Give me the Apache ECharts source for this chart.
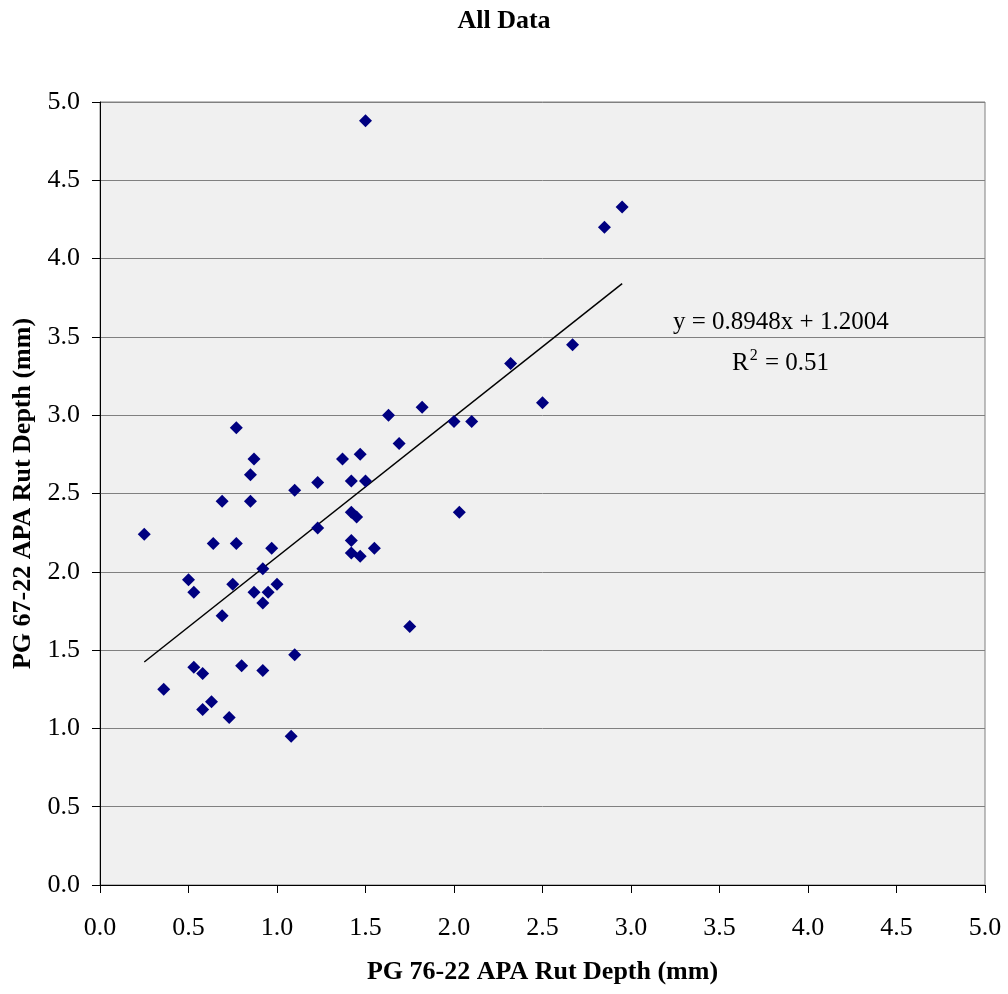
<!DOCTYPE html>
<html>
<head>
<meta charset="utf-8">
<script src="https://cdn.jsdelivr.net/npm/echarts@6/dist/echarts.min.js"></script>
<style>
html,body{margin:0;padding:0;background:#fff;}
#chart{width:1008px;height:994px;}
</style>
</head>
<body>
<div id="chart"></div>
<script>
// PG 76-22 APA rut depth (mm)
var xValues = [0.25,0.36,0.50,0.53,0.53,0.58,0.58,0.63,0.64,0.69,0.69,0.73,0.75,0.77,0.77,0.80,0.85,0.85,0.87,0.87,
  0.92,0.92,0.92,0.95,0.97,1.00,1.08,1.10,1.10,1.23,1.23,1.37,1.42,1.42,1.42,1.42,1.45,1.47,1.47,1.50,
  1.50,1.55,1.63,1.69,1.75,1.82,2.00,2.03,2.10,2.32,2.50,2.67,2.85,2.95];
// PG 67-22 APA rut depth (mm)
var yValues = [2.24,1.25,1.95,1.87,1.39,1.35,1.12,1.17,2.18,2.45,1.72,1.07,1.92,2.92,2.18,1.40,2.62,2.45,2.72,1.87,
  2.02,1.80,1.37,1.87,2.15,1.92,0.95,2.52,1.47,2.57,2.28,2.72,2.58,2.38,2.20,2.12,2.35,2.75,2.10,4.88,
  2.58,2.15,3.00,2.82,1.65,3.05,2.96,2.38,2.96,3.33,3.08,3.45,4.20,4.33];
var trendSlope = 0.8948;
var trendIntercept = 1.2004;
var rSquared = 0.51;
var axisTicks = [0.0,0.5,1.0,1.5,2.0,2.5,3.0,3.5,4.0,4.5,5.0];

var points = xValues.map(function(x,i){return [x, yValues[i]];});
var xmin = Math.min.apply(null, xValues), xmax = Math.max.apply(null, xValues);
var trend = [[xmin, trendSlope*xmin+trendIntercept],[xmax, trendSlope*xmax+trendIntercept]];

var font = 'Liberation Serif';
var chart = echarts.init(document.getElementById('chart'));
chart.setOption({
  backgroundColor:'#fff',
  animation:false,
  textStyle:{fontFamily:font},
  title:{text:'All Data', left:'center', top:3,
    textStyle:{fontFamily:font,fontWeight:'bold',fontSize:26,color:'#000'}},
  grid:{left:100,right:23,top:102,bottom:109,show:true,backgroundColor:'#f0f0f0',borderColor:'#808080',borderWidth:1},
  xAxis:{type:'value',min:axisTicks[0],max:axisTicks[axisTicks.length-1],interval:0.5,
    name:'PG 76-22 APA Rut Depth (mm)',nameLocation:'middle',nameGap:74,
    nameTextStyle:{fontFamily:font,fontWeight:'bold',fontSize:26,color:'#000'},
    axisLine:{show:true,onZero:false,lineStyle:{color:'#000',width:1}},
    axisTick:{show:true,length:8,lineStyle:{color:'#000'}},
    axisLabel:{margin:30,fontSize:26,color:'#000',fontFamily:font,
      formatter:function(v){return v.toFixed(1);}},
    splitLine:{show:false}},
  yAxis:{type:'value',min:axisTicks[0],max:axisTicks[axisTicks.length-1],interval:0.5,
    name:'PG 67-22 APA Rut Depth (mm)',nameLocation:'middle',nameGap:62,
    nameTextStyle:{fontFamily:font,fontWeight:'bold',fontSize:26,color:'#000'},
    axisLine:{show:true,onZero:false,lineStyle:{color:'#000',width:1}},
    axisTick:{show:true,length:8,lineStyle:{color:'#000'}},
    axisLabel:{margin:20,fontSize:26,color:'#000',fontFamily:font,
      formatter:function(v){return v.toFixed(1);}},
    splitLine:{show:true,lineStyle:{color:'#808080',width:1}}},
  series:[
    {type:'scatter',data:points,symbol:'diamond',symbolSize:13,
      itemStyle:{color:'#000080',opacity:1},z:3},
    {type:'line',data:trend,symbol:'none',lineStyle:{color:'#000',width:1.5},z:2,silent:true}
  ],
  graphic:[
    {type:'text',x:673,y:322,style:{text:'y = 0.8948x + 1.2004',font:'25px "Liberation Serif"',fill:'#000',verticalAlign:'middle'}},
    {type:'text',x:732,y:362,style:{
      text:'{n|R}{s|2}{n| = '+rSquared.toFixed(2)+'}',verticalAlign:'middle',
      rich:{n:{fontFamily:font,fontSize:25,fill:'#000',verticalAlign:'bottom'},
            s:{fontFamily:font,fontSize:16,fill:'#000',verticalAlign:'top',padding:[0,1,12,1]}}}}
  ]
});
</script>
</body>
</html>
